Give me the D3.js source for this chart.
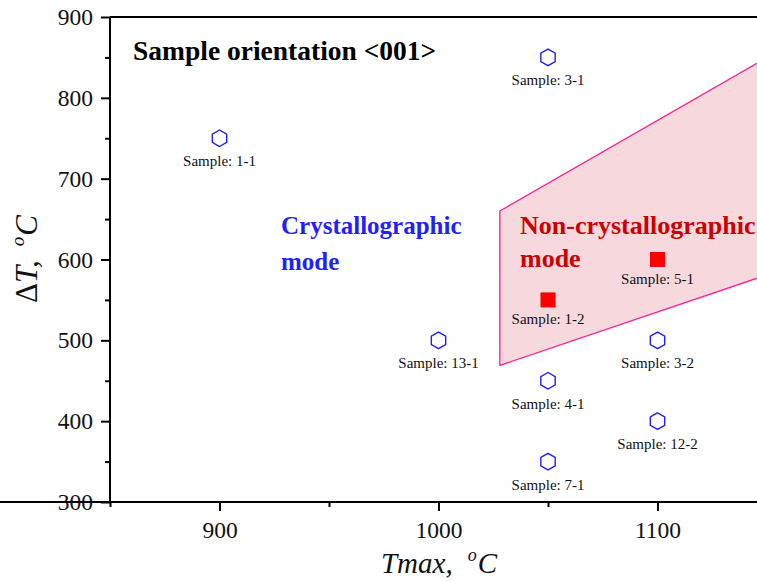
<!DOCTYPE html>
<html><head><meta charset="utf-8">
<script src="https://cdn.jsdelivr.net/npm/d3@7"></script>
<style>body{margin:0;background:#fff}svg{display:block}text{font-family:"Liberation Serif","Times New Roman",serif}</style>
</head><body><svg id="c" width="757" height="581"></svg>
<script>
const xTicks = [900, 1000, 1100];
const yTicks = [300, 400, 500, 600, 700, 800, 900];
const crystT = [900, 1050, 1000, 1050, 1050, 1100, 1100];
const crystDT = [750, 850, 500, 450, 350, 500, 400];
const crystLabels = ["Sample: 1-1", "Sample: 3-1", "Sample: 13-1", "Sample: 4-1", "Sample: 7-1", "Sample: 3-2", "Sample: 12-2"];
const nonT = [1050, 1100];
const nonDT = [550, 600];
const nonLabels = ["Sample: 1-2", "Sample: 5-1"];
const regionT = [1028, 1150, 1150, 1028];
const regionDT = [660, 850, 581, 469];

const svg = d3.select("#c");
const x = d3.scaleLinear().domain([850, 1150]).range([110, 767]);
const y = d3.scaleLinear().domain([300, 900]).range([502, 17]);

// region
svg.append("polygon")
  .attr("points", regionT.map((t, i) => [x(t), y(regionDT[i])].join(",")).join(" "))
  .attr("fill", "#f7d9dd").attr("stroke", "#ff1f8f").attr("stroke-width", 1.3);

// axes
const minorX = [850, 950, 1050, 1150];
const minorY = [350, 450, 550, 650, 750, 850];
const gx = svg.append("g").attr("transform", "translate(0,502)");
gx.call(d3.axisBottom(x).tickValues(xTicks).tickSize(9).tickPadding(10).tickFormat(d3.format("d")));
gx.append("g").call(d3.axisBottom(x).tickValues(minorX).tickSize(5).tickFormat(""));
const gy = svg.append("g").attr("transform", "translate(110,0)");
gy.call(d3.axisLeft(y).tickValues(yTicks).tickSize(9).tickPadding(8).tickFormat(d3.format("d")));
gy.append("g").call(d3.axisLeft(y).tickValues(minorY).tickSize(5).tickFormat(""));
svg.selectAll(".domain").attr("stroke", "#000").attr("stroke-width", 2);
svg.selectAll(".tick line").attr("stroke", "#000").attr("stroke-width", 2);
svg.selectAll(".tick text").attr("font-size", 23.5).attr("fill", "#111").style("font-family", "Liberation Serif, serif");
gy.selectAll(".domain").attr("d", "M0,502V17");
gx.selectAll(".domain").attr("d", "M0,0H767");
// top border
svg.append("line").attr("x1", x(850)).attr("x2", x(1150)).attr("y1", y(900)).attr("y2", y(900))
  .attr("stroke", "#000").attr("stroke-width", 2);

// hexagons
const hex = r => d3.range(6).map(k => { const a = Math.PI / 2 + k * Math.PI / 3; return [r * Math.cos(a), r * Math.sin(a)]; });
const hexPath = "M" + hex(8.3).map(p => p.join(",")).join("L") + "Z";
crystT.forEach((t, i) => {
  svg.append("path").attr("d", hexPath).attr("transform", `translate(${x(t)},${y(crystDT[i])})`)
    .attr("fill", "none").attr("stroke", "#1f1fff").attr("stroke-width", 1.4);
  svg.append("text").attr("x", x(t)).attr("y", y(crystDT[i]) + 28).attr("text-anchor", "middle")
    .attr("font-size", 15).attr("fill", "#111").text(crystLabels[i]);
});
nonT.forEach((t, i) => {
  svg.append("rect").attr("x", x(t) - 7.5).attr("y", y(nonDT[i]) - 7.5).attr("width", 15).attr("height", 15).attr("fill", "#ff0000");
  svg.append("text").attr("x", x(t)).attr("y", y(nonDT[i]) + 24).attr("text-anchor", "middle")
    .attr("font-size", 15).attr("fill", "#111").text(nonLabels[i]);
});

// annotations
svg.append("text").attr("x", 133).attr("y", 60).attr("font-size", 27.5).attr("font-weight", "bold").attr("fill", "#000").text("Sample orientation <001>");
const ct = svg.append("text").attr("font-size", 25).attr("font-weight", "bold").attr("fill", "#1f1fff");
ct.append("tspan").attr("x", 281).attr("y", 234).text("Crystallographic");
ct.append("tspan").attr("x", 281).attr("y", 270).text("mode");
const nt = svg.append("text").attr("font-size", 26).attr("font-weight", "bold").attr("fill", "#cc0000");
nt.append("tspan").attr("x", 520).attr("y", 234).text("Non-crystallographic");
nt.append("tspan").attr("x", 520).attr("y", 267).text("mode");

// axis titles
const xl = svg.append("text").attr("x", 439).attr("y", 573).attr("text-anchor", "middle").attr("font-size", 29).attr("font-style", "italic").attr("fill", "#111");
xl.append("tspan").text("Tmax,");
xl.append("tspan").attr("font-size", 18).attr("dx", 15).attr("dy", -12).text("o");
xl.append("tspan").attr("dx", 1).attr("dy", 12).text("C");
const yl = svg.append("text").attr("transform", "translate(37,259) rotate(-90)").attr("text-anchor", "middle").attr("font-size", 31).attr("fill", "#111");
yl.append("tspan").text("Δ");
yl.append("tspan").attr("font-style", "italic").text("T,");
yl.append("tspan").attr("font-style", "italic").attr("font-size", 19).attr("dx", 14).attr("dy", -13).text("o");
yl.append("tspan").attr("font-style", "italic").attr("dx", 1).attr("dy", 13).text("C");
</script></body></html>
